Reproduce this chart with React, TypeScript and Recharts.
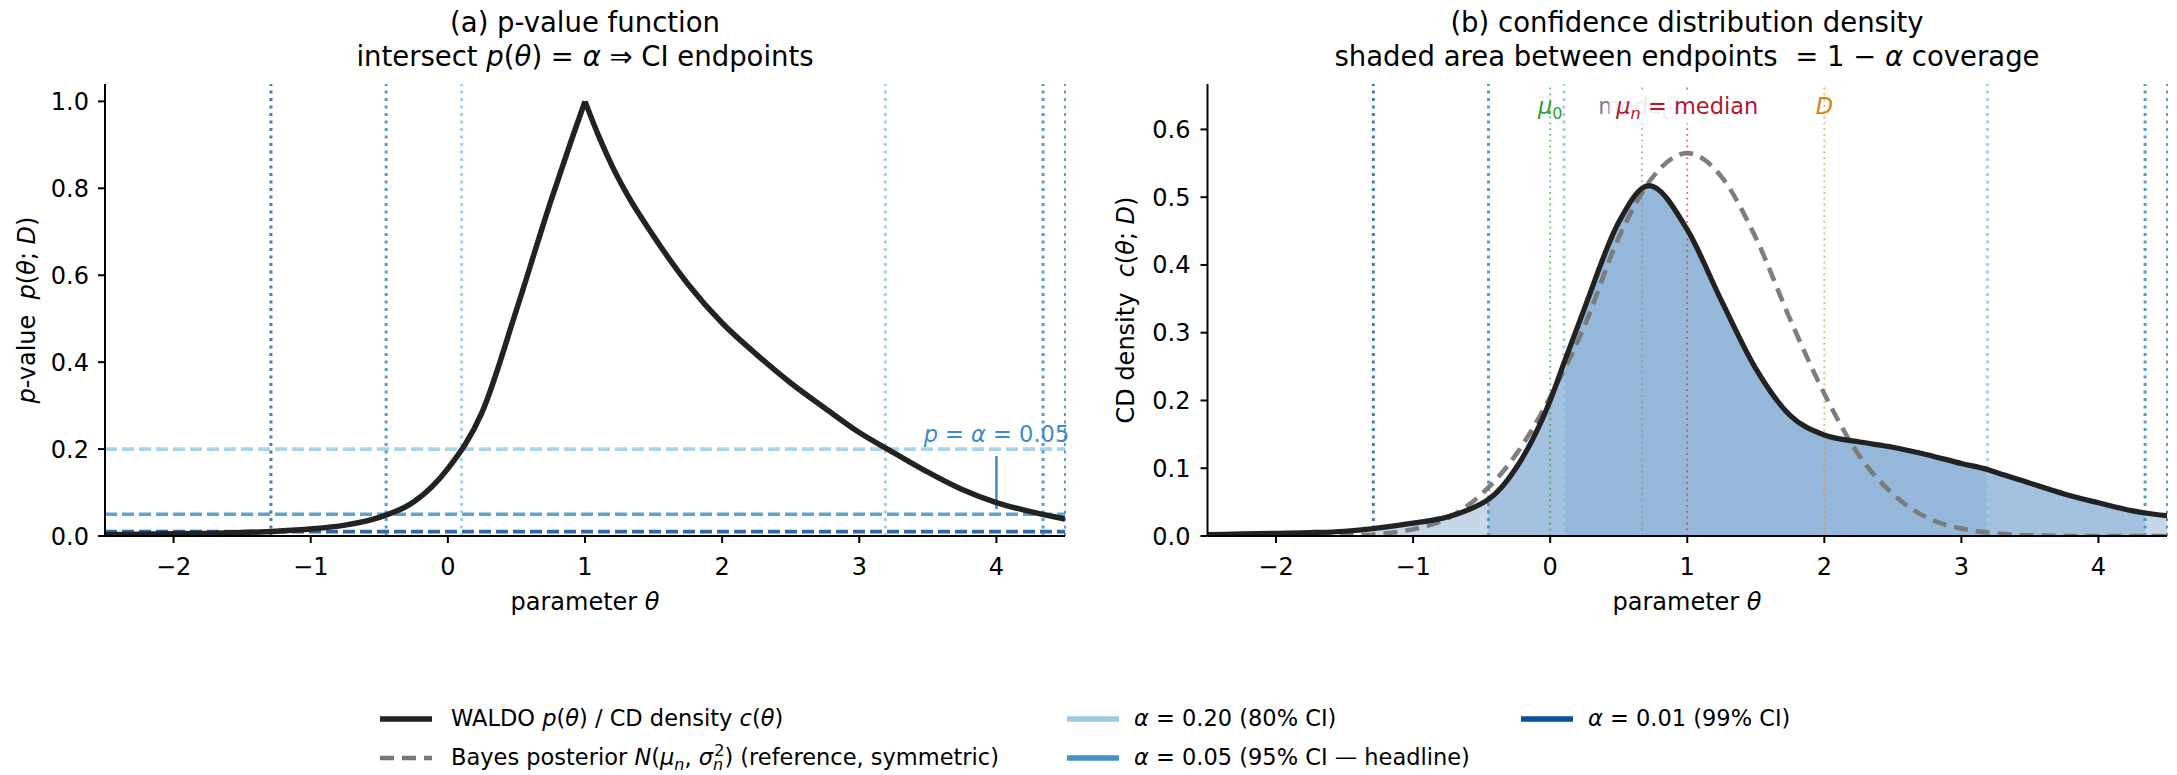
import React from "react";
import {
  ComposedChart,
  Line,
  Area,
  XAxis,
  YAxis,
  ReferenceLine,
  ReferenceDot,
} from "recharts";

// (a) p-value function, read in two halves either side of the peak at theta = 1
const thetaLeft = [-2.5, -2.25, -2, -1.75, -1.5, -1.25, -1, -0.75, -0.5, -0.25, 0, 0.25, 0.5, 0.75, 0.9, 1];
const pLeft = [0.003, 0.004, 0.005, 0.006, 0.008, 0.011, 0.016, 0.025, 0.043, 0.078, 0.155, 0.285, 0.52, 0.77, 0.91, 1.0];
const thetaRight = [1, 1.1, 1.2, 1.3, 1.5, 1.75, 2, 2.25, 2.5, 2.75, 3, 3.25, 3.5, 3.75, 4, 4.25, 4.5];
const pRight = [1.0, 0.92, 0.85, 0.79, 0.69, 0.58, 0.49, 0.418, 0.352, 0.294, 0.238, 0.192, 0.147, 0.107, 0.077, 0.056, 0.039];

// (b) confidence distribution density
const thetaCD = [-2.5, -2.25, -2, -1.75, -1.5, -1.29, -1.25, -1, -0.75, -0.5, -0.45, -0.25, 0, 0.1, 0.25, 0.5, 0.72, 1, 1.25, 1.5, 1.75, 2, 2.25, 2.5, 2.75, 3, 3.19, 3.25, 3.5, 3.75, 4, 4.25, 4.34, 4.5];
const cdDensity = [0.002, 0.003, 0.004, 0.005, 0.007, 0.011, 0.012, 0.019, 0.028, 0.048, 0.054, 0.1, 0.2, 0.255, 0.336, 0.463, 0.517, 0.452, 0.347, 0.247, 0.178, 0.149, 0.139, 0.131, 0.12, 0.107, 0.098, 0.094, 0.078, 0.062, 0.049, 0.037, 0.034, 0.03];

// Bayes posterior (dashed reference)
const thetaBayes = [-2.5, -2, -1.5, -1.25, -1, -0.75, -0.5, -0.25, 0, 0.25, 0.5, 0.75, 1, 1.25, 1.5, 1.75, 2, 2.25, 2.5, 2.75, 3, 3.25, 3.5, 4, 4.5];
const bayesDensity = [0, 0, 0.001, 0.003, 0.01, 0.026, 0.062, 0.12, 0.205, 0.31, 0.44, 0.53, 0.565, 0.53, 0.44, 0.32, 0.21, 0.12, 0.062, 0.027, 0.011, 0.004, 0.001, 0, 0];

// confidence levels and CI endpoints
const alphas = [0.2, 0.05, 0.01];
const ciLower = [0.1, -0.45, -1.29];
const ciUpper = [3.19, 4.34, 4.5];

// reference markers in panel (b): mu0, mode_CD, mu_n = median, D
const markerTheta = [0, 0.67, 1.0, 2.0];

const xTicks = [-2, -1, 0, 1, 2, 3, 4];
const yTicksA = [0, 0.2, 0.4, 0.6, 0.8, 1.0];
const yTicksB = [0, 0.1, 0.2, 0.3, 0.4, 0.5, 0.6];

const FONT = "'DejaVu Sans', sans-serif";
const alphaColors = ["#9ecae1", "#4292c6", "#08519c"];
const shadeColors = ["#95b8da", "#a3c0df", "#c6d7e8"];
const NB = "\u00a0";

const leftRows = thetaLeft.map((t, i) => ({ t, p: pLeft[i] }));
const rightRows = thetaRight.map((t, i) => ({ t, p: pRight[i] }));
const cdRows = thetaCD.map((t, i) => ({ t, c: cdDensity[i] }));
const bayesRows = thetaBayes.map((t, i) => ({ t, b: bayesDensity[i] }));

const fmtX = (v: number) => (v < 0 ? "\u2212" + Math.abs(v) : String(v));
const tickStyle = { fontSize: 24, fill: "#000", fontFamily: FONT };
const axisLine = { stroke: "#000", strokeWidth: 2 };

function ciLines() {
  const out: React.ReactNode[] = [];
  alphas.forEach((a, i) => {
    const op = i === 2 ? 0.75 : 0.9;
    out.push(
      <ReferenceLine key={"lo" + i} x={ciLower[i]} stroke={alphaColors[i]} strokeOpacity={op} strokeWidth={3} strokeDasharray="3 4.5" />
    );
    out.push(
      <ReferenceLine key={"hi" + i} x={ciUpper[i]} stroke={alphaColors[i]} strokeOpacity={op} strokeWidth={i === 2 ? 1.6 : 3} strokeDasharray="3 4.5" />
    );
  });
  return out;
}

function PanelA() {
  return (
    <ComposedChart width={1090} height={640} margin={{ top: 84, right: 25, bottom: 24, left: 10 }}>
      <XAxis type="number" dataKey="t" domain={[-2.5, 4.5]} ticks={xTicks} allowDataOverflow tickFormatter={fmtX}
        tick={tickStyle} tickSize={7} tickMargin={15} axisLine={axisLine} tickLine={axisLine} height={80} />
      <YAxis type="number" domain={[0, 1.04]} ticks={yTicksA} allowDataOverflow tickFormatter={(v: number) => v.toFixed(1)}
        tick={tickStyle} tickSize={7} tickMargin={9} axisLine={axisLine} tickLine={axisLine} width={95} />
      {alphas.map((a, i) => (
        <ReferenceLine key={"h" + i} y={a} stroke={alphaColors[i]} strokeOpacity={0.85} strokeWidth={3.6} strokeDasharray="12 5" />
      ))}
      {ciLines()}
      <ReferenceLine segment={[{ x: 4, y: 0.062 }, { x: 4, y: 0.184 }]} stroke="#3d8bc9" strokeWidth={2.5} />
      <ReferenceDot x={4} y={0.217} r={1} fill="none" stroke="none"
        shape={(props: any) => (
          <text x={props.cx} y={props.cy} textAnchor="middle" fontSize={22.5} fontFamily={FONT} fill="#3d8bc9">
            <tspan fontStyle="italic">p</tspan> = <tspan fontStyle="italic">α</tspan> = 0.05
          </text>
        )}
      />
      <Line data={leftRows} dataKey="p" type="monotone" stroke="#222" strokeWidth={5.5} dot={false} isAnimationActive={false} />
      <Line data={rightRows} dataKey="p" type="monotone" stroke="#222" strokeWidth={5.5} dot={false} isAnimationActive={false} />
    </ComposedChart>
  );
}

function markerLabel(i: number) {
  return (props: any) => {
    const x = props.cx;
    const y = props.cy;
    if (i === 0)
      return (
        <text x={x} y={y} textAnchor="middle" fontSize={22.5} fontFamily={FONT} fill="#2ca02c">
          <tspan fontStyle="italic">μ</tspan><tspan fontSize={16} dy={5}>0</tspan>
        </text>
      );
    if (i === 1)
      return (
        <text x={x} y={y} textAnchor="middle" fontSize={22.5} fontFamily={FONT} fill="#7f7f7f">
          mode<tspan fontSize={16} dy={5}>CD</tspan>
        </text>
      );
    if (i === 2)
      return (
        <g>
          <rect x={x - 78} y={y - 23} width={156} height={32} fill="#fff" fillOpacity={0.85} />
          <text x={x} y={y} textAnchor="middle" fontSize={22.5} fontFamily={FONT} fill="#b2182b">
            <tspan fontStyle="italic">μ</tspan><tspan fontStyle="italic" fontSize={16} dy={5}>n</tspan>
            <tspan dy={-5}>{NB}={NB}median</tspan>
          </text>
        </g>
      );
    return (
      <text x={x} y={y} textAnchor="middle" fontSize={22.5} fontFamily={FONT} fill="#d97f0e" fontStyle="italic">
        D
      </text>
    );
  };
}

const markerColors = ["#2ca02c", "#8c8c8c", "#d62728", "#ff7f0e"];

function PanelB() {
  return (
    <ComposedChart width={1087} height={640} margin={{ top: 84, right: 10, bottom: 24, left: 10 }}>
      <XAxis type="number" dataKey="t" domain={[-2.5, 4.5]} ticks={xTicks} allowDataOverflow tickFormatter={fmtX}
        tick={tickStyle} tickSize={7} tickMargin={15} axisLine={axisLine} tickLine={axisLine} height={80} />
      <YAxis type="number" domain={[0, 0.667]} ticks={yTicksB} allowDataOverflow tickFormatter={(v: number) => v.toFixed(1)}
        tick={tickStyle} tickSize={7} tickMargin={10} axisLine={axisLine} tickLine={axisLine} width={107.5} />
      {[2, 1, 0].map((i) => (
        <Area key={"s" + i} data={cdRows.filter((r) => r.t >= ciLower[i] && r.t <= ciUpper[i])} dataKey="c" type="monotone"
          stroke="none" fill={shadeColors[i]} fillOpacity={1} isAnimationActive={false} />
      ))}
      {ciLines()}
      {markerTheta.map((m, i) => (
        <ReferenceLine key={"m" + i} x={m} stroke={markerColors[i]} strokeOpacity={0.7} strokeWidth={1.8} strokeDasharray="1.8 4" />
      ))}
      <Line data={bayesRows} dataKey="b" type="monotone" stroke="#777" strokeOpacity={0.95} strokeWidth={4.6} strokeDasharray="14 8" dot={false} isAnimationActive={false} />
      <Line data={cdRows} dataKey="c" type="monotone" stroke="#222" strokeWidth={5.2} dot={false} isAnimationActive={false} />
      {markerTheta.map((m, i) => (
        <ReferenceDot key={"l" + i} x={m} y={0.622} r={1} fill="none" stroke="none" shape={markerLabel(i)} />
      ))}
    </ComposedChart>
  );
}

const legendItems = [
  { x: 380, y: 719, color: "#222", dash: "", width: 5.5 },
  { x: 380, y: 758, color: "#777", dash: "14 8", width: 4.6 },
  { x: 1067, y: 719, color: "#9ecae1", dash: "", width: 5.5 },
  { x: 1067, y: 758, color: "#4292c6", dash: "", width: 5.5 },
  { x: 1521, y: 719, color: "#08519c", dash: "", width: 5.5 },
];

function Overlay() {
  const t = { fontFamily: FONT, fill: "#000" };
  return (
    <svg width={2177} height={775} style={{ position: "absolute", left: 0, top: 0, pointerEvents: "none" }}>
      <g {...t} fontSize={27.5} textAnchor="middle">
        <text x={585} y={32}>(a) p-value function</text>
        <text x={585} y={65.5}>
          intersect <tspan fontStyle="italic">p</tspan>(<tspan fontStyle="italic">θ</tspan>) = <tspan fontStyle="italic">α</tspan> ⇒ CI endpoints
        </text>
        <text x={1687} y={32}>(b) confidence distribution density</text>
        <text x={1687} y={65.5}>
          {"shaded area between endpoints" + NB + NB + "= 1 − "}<tspan fontStyle="italic">α</tspan> coverage
        </text>
      </g>
      <g {...t} fontSize={24} textAnchor="middle">
        <text x={585} y={610}>parameter <tspan fontStyle="italic">θ</tspan></text>
        <text x={1687} y={610}>parameter <tspan fontStyle="italic">θ</tspan></text>
        <text x={27} y={310} transform="rotate(-90 27 310)" dominantBaseline="central">
          <tspan fontStyle="italic">p</tspan>{"-value" + NB + NB}<tspan fontStyle="italic">p</tspan>(<tspan fontStyle="italic">θ</tspan>; <tspan fontStyle="italic">D</tspan>)
        </text>
        <text x={1126} y={310} transform="rotate(-90 1126 310)" dominantBaseline="central">
          {"CD density" + NB + NB}<tspan fontStyle="italic">c</tspan>(<tspan fontStyle="italic">θ</tspan>; <tspan fontStyle="italic">D</tspan>)
        </text>
      </g>
      {legendItems.map((it, i) => (
        <line key={i} x1={it.x} x2={it.x + 52} y1={it.y} y2={it.y} stroke={it.color} strokeWidth={it.width} strokeDasharray={it.dash || undefined} />
      ))}
      <g {...t} fontSize={22.5}>
        <text x={451} y={726}>
          WALDO <tspan fontStyle="italic">p</tspan>(<tspan fontStyle="italic">θ</tspan>) / CD density <tspan fontStyle="italic">c</tspan>(<tspan fontStyle="italic">θ</tspan>)
        </text>
        <text x={451} y={765}>
          Bayes posterior <tspan fontStyle="italic">N</tspan>(<tspan fontStyle="italic">μ</tspan><tspan fontStyle="italic" fontSize={16} dy={5}>n</tspan><tspan dy={-5}>, </tspan><tspan fontStyle="italic">σ</tspan><tspan fontStyle="italic" fontSize={16} dy={5}>n</tspan><tspan fontSize={16} dx={-9} dy={-14}>2</tspan><tspan dy={9}>) (reference, symmetric)</tspan>
        </text>
        <text x={1134} y={726}><tspan fontStyle="italic">α</tspan> = 0.20 (80% CI)</text>
        <text x={1134} y={765}><tspan fontStyle="italic">α</tspan> = 0.05 (95% CI — headline)</text>
        <text x={1588} y={726}><tspan fontStyle="italic">α</tspan> = 0.01 (99% CI)</text>
      </g>
    </svg>
  );
}

export default function App() {
  return (
    <div style={{ position: "absolute", left: 0, top: 0, width: 2177, height: 775, background: "#fff", fontFamily: FONT }}>
      <div style={{ position: "absolute", left: 0, top: 0 }}>
        <PanelA />
      </div>
      <div style={{ position: "absolute", left: 1090, top: 0 }}>
        <PanelB />
      </div>
      <Overlay />
    </div>
  );
}
